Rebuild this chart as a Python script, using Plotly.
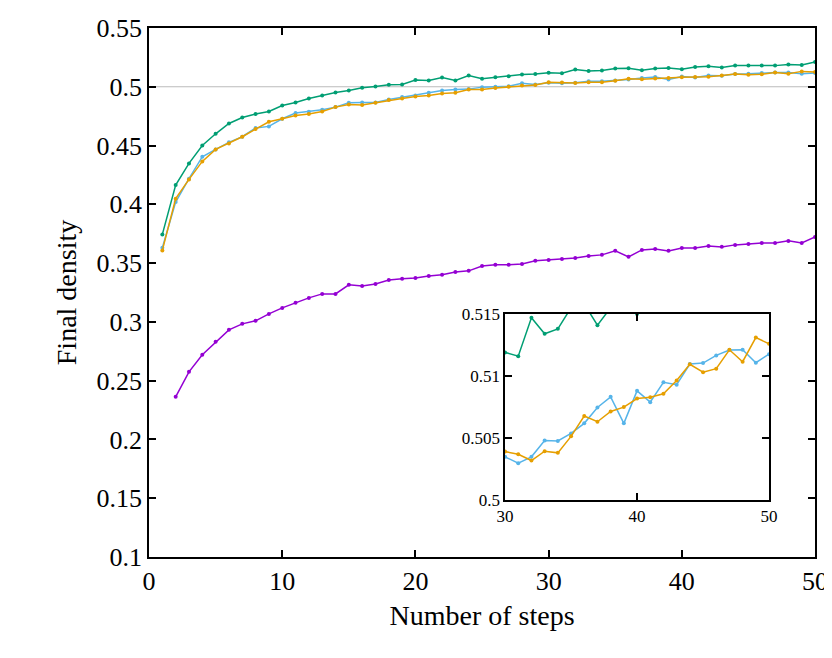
import plotly.graph_objects as go

steps = list(range(1, 51))
green = [0.3744,0.4164,0.4348,0.4501,0.4600,0.4688,0.4739,0.4768,0.4790,0.4841,
         0.4867,0.4901,0.4926,0.4952,0.4969,0.4991,0.5003,0.5017,0.5020,0.5057,
         0.5054,0.5079,0.5054,0.5096,0.5068,0.5080,0.5090,0.5105,0.5108,0.5119,
         0.5116,0.5147,0.5134,0.5138,0.5155,0.5158,0.5141,0.5155,0.5160,0.5150,
         0.5168,0.5175,0.5165,0.5180,0.5180,0.5180,0.5180,0.5190,0.5185,0.5210]
blue = [0.3631,0.4019,0.4218,0.4405,0.4467,0.4527,0.4575,0.4649,0.4663,0.4728,
        0.4776,0.4787,0.4804,0.4827,0.4864,0.4867,0.4867,0.4892,0.4912,0.4926,
        0.4949,0.4969,0.4977,0.4980,0.4997,0.5000,0.5005,0.5030,0.5020,0.50348,
        0.50297,0.50348,0.50479,0.50476,0.50537,0.50618,0.50746,0.50832,0.50618,0.50880,
        0.50789,0.50949,0.50930,0.51096,0.51104,0.51166,0.51209,0.51211,0.51107,0.51176]
orange = [0.3608,0.4048,0.4212,0.4365,0.4467,0.4518,0.4575,0.4640,0.4702,0.4728,
          0.4756,0.4768,0.4790,0.4827,0.4850,0.4844,0.4864,0.4887,0.4901,0.4918,
          0.4926,0.4943,0.4949,0.4977,0.4977,0.4990,0.5000,0.5010,0.5015,0.50390,
          0.50369,0.50318,0.50393,0.50380,0.50513,0.50677,0.50631,0.50714,0.50749,0.50818,
          0.50829,0.50856,0.50963,0.51094,0.51030,0.51059,0.51211,0.51115,0.51310,0.51259]
purple_steps = list(range(2, 51))
purple = [0.2362,0.2575,0.2720,0.2830,0.2932,0.2983,0.3009,0.3068,0.3119,0.3162,
          0.3204,0.3238,0.3238,0.3315,0.3306,0.3323,0.3357,0.3366,0.3374,0.3391,
          0.3400,0.3425,0.3434,0.3476,0.3485,0.3485,0.3493,0.3519,0.3527,0.3535,
          0.3544,0.3561,0.3570,0.3604,0.3553,0.3612,0.3620,0.3604,0.3629,0.3629,
          0.3646,0.3638,0.3655,0.3663,0.3672,0.3672,0.3689,0.3672,0.3723]

colors = {"green": "#009e73", "blue": "#56b4e9", "orange": "#e69f00", "purple": "#9400d3"}
series = [(steps, green, "green"), (steps, blue, "blue"), (steps, orange, "orange"),
          (purple_steps, purple, "purple")]

fig = go.Figure()
for xs, ys, c in series:
    fig.add_trace(go.Scatter(x=xs, y=ys, mode="lines+markers", xaxis="x", yaxis="y",
                             line=dict(color=colors[c], width=1.5),
                             marker=dict(size=4, color=colors[c]), showlegend=False))
for xs, ys, c in series[:3]:
    fig.add_trace(go.Scatter(x=xs, y=ys, mode="lines+markers", xaxis="x2", yaxis="y2",
                             line=dict(color=colors[c], width=1.5), cliponaxis=True,
                             marker=dict(size=4, color=colors[c]), showlegend=False))

fig.add_shape(type="line", xref="x", yref="y", x0=0, x1=50, y0=0.5, y1=0.5,
              line=dict(color="#bbbbbb", width=1.2), layer="below")

font = dict(family="Liberation Serif, DejaVu Serif, serif", color="black")
ax = dict(showgrid=False, zeroline=False, showline=True, linecolor="black", linewidth=1.5,
          mirror="ticks", ticks="inside", ticklen=7, tickcolor="black", tickwidth=1.5,
          automargin=False)

fig.update_layout(
    width=832, height=658, margin=dict(l=0, r=0, t=0, b=0),
    plot_bgcolor="white", paper_bgcolor="white", font=dict(size=26, **font),
    xaxis=dict(domain=[0.1695, 0.97], range=[0, 50], dtick=10, anchor="y",
               title=dict(text="Number of steps", font=dict(size=28), standoff=10), **ax),
    yaxis=dict(domain=[0.1657, 0.9696], range=[0.1, 0.55], dtick=0.05, anchor="x",
               title=dict(text="Final density", font=dict(size=28), standoff=12), **ax),
    xaxis2=dict(domain=[0.5974, 0.9147], range=[30, 50], dtick=10, anchor="y2",
                tickfont=dict(size=17), **ax),
    yaxis2=dict(domain=[0.2523, 0.535], range=[0.5, 0.515], dtick=0.005, anchor="x2",
                tickfont=dict(size=17), **ax),
)
fig.write_html("out.html")
